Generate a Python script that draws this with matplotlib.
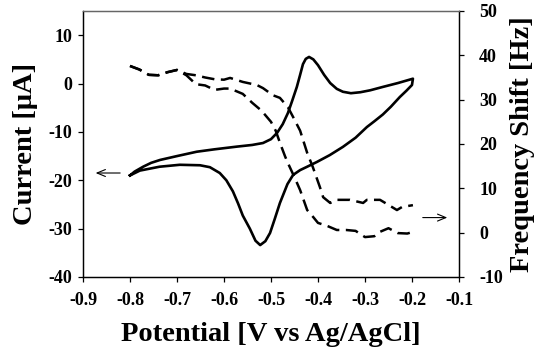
import matplotlib
matplotlib.use("Agg")
import matplotlib.pyplot as plt

plt.rcParams['font.family'] = ['Liberation Serif', 'DejaVu Serif']
plt.rcParams['font.weight'] = 'bold'
plt.rcParams['axes.unicode_minus'] = False

# cyclic voltammogram (current, left axis) - forward then return sweep
cv_x = [-0.800, -0.790, -0.772, -0.755, -0.736, -0.700, -0.658, -0.620, -0.573, -0.540,
        -0.517, -0.500, -0.487, -0.475, -0.464, -0.455, -0.445, -0.438, -0.432, -0.426,
        -0.419, -0.410, -0.400, -0.387, -0.374, -0.360, -0.347, -0.330, -0.310, -0.289,
        -0.262, -0.230, -0.198,
        -0.200, -0.212, -0.226, -0.245, -0.262, -0.280, -0.296, -0.320, -0.347, -0.375,
        -0.402, -0.423, -0.438, -0.453, -0.465, -0.481, -0.492, -0.502, -0.512, -0.523,
        -0.533, -0.545, -0.560, -0.570, -0.581, -0.595, -0.609, -0.630, -0.651, -0.694,
        -0.737, -0.779, -0.800]
cv_y = [-19.0, -18.2, -17.2, -16.4, -15.8, -15.0, -14.1, -13.6, -13.05, -12.7,
        -12.3, -11.5, -10.2, -8.4, -6.1, -3.6, -0.7, 1.8, 4.0, 5.1,
        5.5, 5.0, 3.8, 1.8, 0.1, -1.1, -1.7, -2.0, -1.8, -1.4,
        -0.7, 0.1, 1.0,
        -0.3, -1.5, -2.8, -4.8, -6.4, -7.8, -9.0, -11.2, -13.1, -14.8,
        -16.2, -17.2, -17.9, -18.9, -20.8, -24.7, -28.0, -30.9, -32.6, -33.4,
        -32.5, -30.0, -27.3, -24.8, -22.3, -20.0, -18.5, -17.3, -16.9, -16.8,
        -17.2, -18.0, -19.0]

# frequency shift (right axis), two sweeps
fa_x = [-0.800, -0.780, -0.760, -0.740, -0.720, -0.700, -0.680, -0.660, -0.640, -0.620,
        -0.600, -0.587, -0.560, -0.540, -0.520, -0.500, -0.490, -0.480, -0.470, -0.464,
        -0.450, -0.438, -0.423, -0.410, -0.400, -0.380, -0.360, -0.340, -0.320, -0.300,
        -0.280, -0.270, -0.250, -0.230, -0.210, -0.200]
fa_y = [37.6, 36.8, 35.6, 35.5, 36.2, 36.7, 35.5, 33.5, 33.2, 32.2,
        32.5, 32.5, 31.3, 29.3, 27.5, 25.0, 23.0, 20.0, 17.2, 15.7,
        12.5, 9.6, 5.1, 3.5, 2.2, 1.5, 0.6, 0.6, 0.4, -1.0,
        -0.8, 0.1, 1.0, -0.1, -0.2, 0.1]

fb_x = [-0.800, -0.780, -0.760, -0.740, -0.720, -0.700, -0.680, -0.660, -0.640, -0.620,
        -0.600, -0.587, -0.560, -0.530, -0.517, -0.496, -0.481, -0.464, -0.453, -0.438,
        -0.423, -0.411, -0.396, -0.389, -0.374, -0.360, -0.332, -0.304, -0.296, -0.268,
        -0.257, -0.232, -0.221, -0.198]
fb_y = [37.6, 36.8, 35.6, 35.5, 36.2, 36.7, 35.8, 35.5, 35.0, 34.6,
        34.5, 34.9, 34.0, 33.3, 32.6, 31.0, 30.4, 28.3, 26.1, 23.0,
        18.0, 14.8, 10.3, 8.0, 6.7, 7.4, 7.4, 6.7, 7.4, 7.4,
        6.7, 5.1, 5.8, 6.2]

x_ticks = [-0.9, -0.8, -0.7, -0.6, -0.5, -0.4, -0.3, -0.2, -0.1]
cur_ticks = [-40, -30, -20, -10, 0, 10]
freq_ticks = [-10, 0, 10, 20, 30, 40, 50]

fig = plt.figure(figsize=(5.41, 3.58), dpi=100)
ax = fig.add_axes([0.1534, 0.2263, 0.6950, 0.7430])
ax2 = ax.twinx()

ax.plot(cv_x, cv_y, color='black', lw=1.9)
ax2.plot(fa_x, fa_y, color='black', lw=1.8, linestyle=(0, (5, 2.6)))
ax2.plot(fb_x, fb_y, color='black', lw=1.8, linestyle=(0, (5, 2.6)))

ax.set_xlim(-0.9, -0.1)
ax.set_ylim(-40, 15)
ax2.set_ylim(-10, 50)
ax.set_xticks(x_ticks)
ax.set_xticklabels(['%.1f' % v for v in x_ticks])
ax.set_yticks(cur_ticks)
ax2.set_yticks(freq_ticks)

ax.tick_params(axis='both', direction='out', length=3.5, width=0.9, labelsize=13)
ax.tick_params(axis='x', pad=7)
ax.tick_params(axis='y', pad=4)
ax2.tick_params(axis='y', direction='out', length=3.5, width=0.9, labelsize=13, pad=11)

for a in (ax, ax2):
    for s in a.spines.values():
        s.set_linewidth(0.9)
    a.spines['top'].set_color('#666666')

ax.set_xlabel('Potential [V vs Ag/AgCl]', fontsize=20.5, fontweight='bold', labelpad=10)
ax.set_ylabel('Current [μA]', fontsize=20.5, fontweight='bold', labelpad=8)
ax2.set_ylabel('Frequency Shift [Hz]', fontsize=20.5, fontweight='bold', labelpad=5)

# arrows pointing to the axis each curve belongs to
ax.annotate('', xy=(-0.879, -18.5), xytext=(-0.815, -18.5),
            arrowprops=dict(arrowstyle='->,head_length=0.6,head_width=0.25',
                            color='black', lw=0.8))
ax2.annotate('', xy=(-0.119, 3.4), xytext=(-0.183, 3.4),
             arrowprops=dict(arrowstyle='->,head_length=0.6,head_width=0.25',
                             color='black', lw=0.8))

fig.savefig('out.png', dpi=100)
